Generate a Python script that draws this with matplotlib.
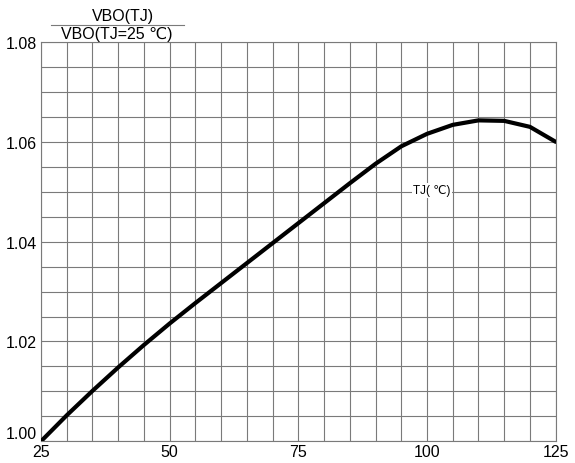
import numpy as np
import matplotlib.pyplot as plt

plt.rcParams['font.family'] = ['Liberation Sans', 'DejaVu Sans']

# junction temperature (deg C) and normalised breakover voltage
tj = [25, 30, 35, 40, 45, 50, 55, 60, 65, 70, 75,
      80, 85, 90, 95, 100, 105, 110, 115, 120, 125]
vbo_ratio = [1.0000, 1.0052, 1.0101, 1.0148, 1.0193, 1.0236, 1.0277, 1.0317,
             1.0357, 1.0397, 1.0437, 1.0477, 1.0517, 1.0556, 1.0591, 1.0616,
             1.0634, 1.0643, 1.0642, 1.0630, 1.0600]

xticks = [25, 50, 75, 100, 125]
yticks = [1.00, 1.02, 1.04, 1.06, 1.08]
ytick_labels = ['1.00', '1.02', '1.04', '1.06', '1.08']

fig = plt.figure(figsize=(5.75, 4.64), dpi=100)
ax = fig.add_axes([0.0713, 0.0468, 0.8951, 0.8605])

ax.plot(tj, vbo_ratio, color='black', lw=3.0, solid_capstyle='round',
        solid_joinstyle='round', zorder=3)

ax.set_xlim(25, 125)
ax.set_ylim(1.00, 1.08)
ax.set_xticks(np.arange(25, 126, 5), minor=True)
ax.set_yticks(np.arange(1.00, 1.0801, 0.005), minor=True)
ax.set_xticks(xticks)
ax.set_yticks(yticks)
ax.set_yticklabels(ytick_labels)
ax.grid(which='both', color='#7a7a7a', lw=0.8)
ax.tick_params(which='both', length=0, labelsize=11.5, pad=3)
ax.tick_params(axis='x', pad=2)
for s in ax.spines.values():
    s.set_color('#7a7a7a')
    s.set_linewidth(0.8)
# bottom y label sits a little above its grid line
ax.get_yticklabels()[0].set_verticalalignment('bottom')

ax.text(101, 1.0503, 'TJ( ℃)', fontsize=8.5, ha='center', va='center',
        bbox=dict(facecolor='white', edgecolor='none', pad=1), zorder=4)

# fraction-style y axis title
fig.text(123 / 575, 1 - 17 / 464, 'VBO(TJ)', fontsize=11.5, ha='center', va='center')
fig.text(117 / 575, 1 - 35 / 464, 'VBO(TJ=25 ℃)', fontsize=11.5, ha='center', va='center')
fig.add_artist(plt.Line2D([51 / 575, 184 / 575], [1 - 26 / 464, 1 - 26 / 464],
                          color='#7a7a7a', lw=0.8, transform=fig.transFigure))

fig.savefig('out.png', dpi=100)
